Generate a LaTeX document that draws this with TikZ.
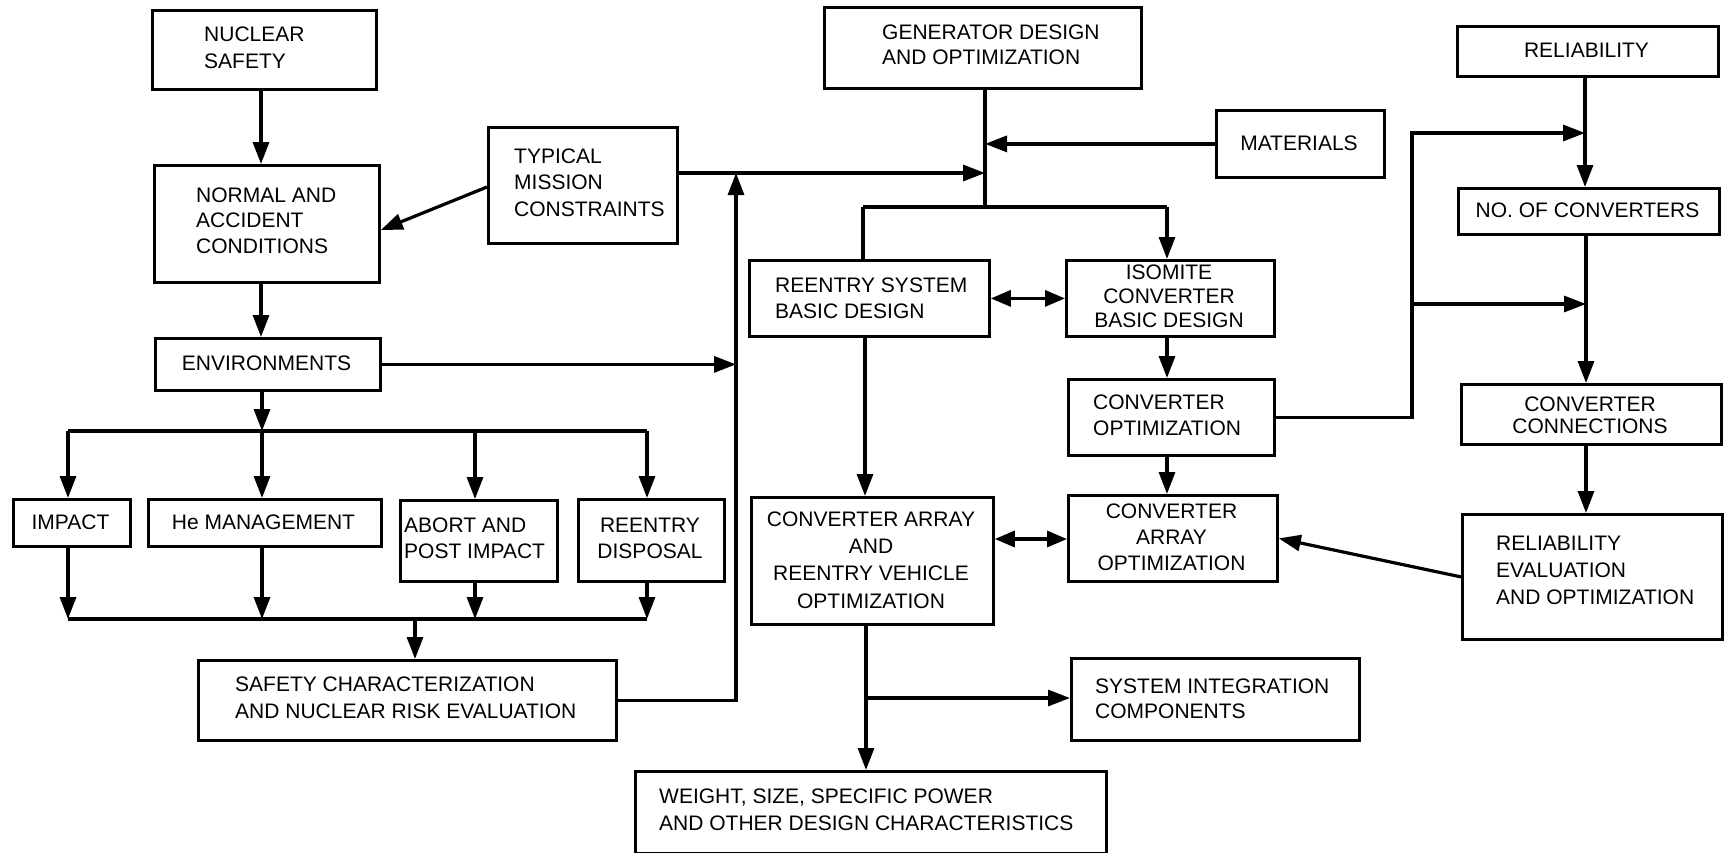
\documentclass[tikz,border=0pt]{standalone}
\usepackage{fontspec}
\setmainfont{Liberation Sans}
\usetikzlibrary{arrows.meta,calc}
\begin{document}
\begin{tikzpicture}[x=1pt,y=-1pt,
  box/.style={draw, line width=2.8pt, inner sep=0pt, anchor=north west},
  txt/.style={inner sep=0pt, align=left, font=\fontsize{21}{26}\selectfont},
  ctxt/.style={inner sep=0pt, align=center, font=\fontsize{21}{26}\selectfont},
  ls/.style={font=\fontsize{21}{#1}\selectfont},
  ln/.style={line width=3.2pt},
  arr/.style={line width=3.2pt, -{Triangle[length=22pt,width=16pt]}},
  dbl/.style={line width=3.2pt, {Triangle[length=20pt,width=16pt]}-{Triangle[length=20pt,width=16pt]}}]
\useasboundingbox (0,0) rectangle (1724,852);
% boxes
\node[box, minimum width=224pt, minimum height=79pt] (nuc) at (151,9) {};
\node[box, minimum width=225pt, minimum height=117pt] (norm) at (153,164) {};
\node[box, minimum width=189pt, minimum height=116pt] (typ) at (487,126) {};
\node[box, minimum width=225pt, minimum height=52pt] (env) at (154,337) {};
\node[box, minimum width=117pt, minimum height=47pt] (imp) at (12,498) {};
\node[box, minimum width=233pt, minimum height=47pt] (he) at (147,498) {};
\node[box, minimum width=157pt, minimum height=81pt] (abort) at (399,499) {};
\node[box, minimum width=146pt, minimum height=82pt] (redis) at (577,498) {};
\node[box, minimum width=418pt, minimum height=80pt] (safe) at (197,659) {};
\node[box, minimum width=317pt, minimum height=81pt] (gen) at (823,6) {};
\node[box, minimum width=168pt, minimum height=67pt] (mat) at (1215,109) {};
\node[box, minimum width=240pt, minimum height=76pt] (rsys) at (748,259) {};
\node[box, minimum width=208pt, minimum height=76pt] (iso) at (1065,259) {};
\node[box, minimum width=206pt, minimum height=76pt] (copt) at (1067,378) {};
\node[box, minimum width=209pt, minimum height=86pt] (caopt) at (1067,494) {};
\node[box, minimum width=242pt, minimum height=127pt] (carv) at (750,496) {};
\node[box, minimum width=288pt, minimum height=82pt] (sysint) at (1070,657) {};
\node[box, minimum width=471pt, minimum height=82pt] (weight) at (634,770) {};
\node[box, minimum width=261pt, minimum height=50pt] (rel) at (1456,25) {};
\node[box, minimum width=261pt, minimum height=46pt] (noc) at (1457,187) {};
\node[box, minimum width=260pt, minimum height=60pt] (conn) at (1460,383) {};
\node[box, minimum width=260pt, minimum height=125pt] (reval) at (1461,513) {};
% texts
\node[txt, ls=27, anchor=west] (nuct) at (204,47.5) {NUCLEAR\\SAFETY};
\node[txt, ls=25.5, anchor=west] (normt) at (196,220.5) {NORMAL AND\\ACCIDENT\\CONDITIONS};
\node[txt, ls=26.5, anchor=west] (typt) at (514,182.5) {TYPICAL\\MISSION\\CONSTRAINTS};
\node[ctxt] (envt) at (266.5,363) {ENVIRONMENTS};
\node[ctxt] (impt) at (70.5,522) {IMPACT};
\node[ctxt] (het) at (263.5,522) {He MANAGEMENT};
\node[txt, anchor=west] (abortt) at (404,538) {ABORT AND\\POST IMPACT};
\node[ctxt] (redist) at (650,538) {REENTRY\\DISPOSAL};
\node[txt, ls=27, anchor=west] (safet) at (235,697.5) {SAFETY CHARACTERIZATION\\AND NUCLEAR RISK EVALUATION};
\node[txt, ls=25, anchor=west] (gent) at (882,44.5) {GENERATOR DESIGN\\AND OPTIMIZATION};
\node[ctxt] (matt) at (1299,143) {MATERIALS};
\node[txt, anchor=west] (rsyst) at (775,298) {REENTRY SYSTEM\\BASIC DESIGN};
\node[ctxt, ls=24] (isot) at (1169,296) {ISOMITE\\CONVERTER\\BASIC DESIGN};
\node[txt, anchor=west] (coptt) at (1093,415) {CONVERTER\\OPTIMIZATION};
\node[ctxt] (caoptt) at (1171.5,537) {CONVERTER\\ARRAY\\OPTIMIZATION};
\node[ctxt, ls=27.3] (carvt) at (871,560) {CONVERTER ARRAY\\AND\\REENTRY VEHICLE\\OPTIMIZATION};
\node[txt, ls=25, anchor=west] (sysintt) at (1095,698.5) {SYSTEM INTEGRATION\\COMPONENTS};
\node[txt, ls=27, anchor=west] (weightt) at (659,809.5) {WEIGHT, SIZE, SPECIFIC POWER\\AND OTHER DESIGN CHARACTERISTICS};
\node[ctxt] (relt) at (1586.5,50) {RELIABILITY};
\node[ctxt] (noct) at (1587.5,210) {NO. OF CONVERTERS};
\node[ctxt, ls=21.5] (connt) at (1590,415.5) {CONVERTER\\CONNECTIONS};
\node[txt, ls=27, anchor=west] (revalt) at (1496,570) {RELIABILITY\\EVALUATION\\AND OPTIMIZATION};
% junction coordinates
\coordinate (xl) at (261,0);
\coordinate (b1) at (262,431);
\coordinate (b1l) at (68,431);
\coordinate (b1a) at (475,431);
\coordinate (b1r) at (647,431);
\coordinate (b2l) at (68,619);
\coordinate (b2h) at (262,619);
\coordinate (b2a) at (475,619);
\coordinate (b2r) at (647,619);
\coordinate (b2s) at (415,619);
\coordinate (jv) at (736,173);
\coordinate (gj) at (985,207);
\coordinate (gjt) at (985,173);
\coordinate (hl) at (863,207);
\coordinate (hr) at (1167,207);
\coordinate (xr) at (865,0);
\coordinate (cy) at (0,539);
\coordinate (rx) at (1412,133);
\coordinate (rxt) at (1585,133);
\coordinate (rxm) at (1412,304);
\coordinate (rxmt) at (1586,304);
\coordinate (wj) at (866,698);
% left column
\draw[arr] (nuc.south -| xl) -- (norm.north -| xl);
\draw[arr] (norm.south -| xl) -- (env.north -| xl);
\draw[arr] (typ.west |- 0,187) -- (norm.east |- 0,230);
\draw[arr] (env.south -| b1) -- (b1);
\draw[ln] (b1l) -- (b1r);
\draw[arr] (b1l) -- (imp.north -| b1l);
\draw[arr] (b1) -- (he.north -| b1);
\draw[arr] (b1a) -- (abort.north -| b1a);
\draw[arr] (b1r) -- (redis.north -| b1r);
\draw[arr] (imp.south -| b2l) -- (b2l);
\draw[arr] (he.south -| b2h) -- (b2h);
\draw[arr] (abort.south -| b2a) -- (b2a);
\draw[arr] (redis.south -| b2r) -- (b2r);
\draw[ln] (b2l) -- (b2r);
\draw[arr] (b2s) -- (safe.north -| b2s);
\draw[arr] (safe.east) -- (safe.east -| jv) -- (jv);
\draw[arr] (env.east) -- (env.east -| jv);
\draw[arr] (typ.east |- jv) -- (gjt);
% centre column
\draw[ln] (gen.south -| gj) -- (gj);
\draw[arr] (mat.west) -- (mat.west -| gj);
\draw[ln] (hl) -- (hr);
\draw[ln] (hl) -- (rsys.north -| hl);
\draw[arr] (hr) -- (iso.north -| hr);
\draw[dbl] (rsys.east) -- (iso.west);
\draw[arr] (iso.south -| hr) -- (copt.north -| hr);
\draw[arr] (copt.south -| hr) -- (caopt.north -| hr);
\draw[arr] (rsys.south -| xr) -- (carv.north -| xr);
\draw[dbl] (carv.east |- cy) -- (caopt.west |- cy);
\draw[arr] (reval.west) -- (caopt.east);
\draw[arr] (carv.south -| wj) -- (weight.north -| wj);
\draw[arr] (wj) -- (sysint.west |- wj);
% right column
\draw[arr] (copt.east) -- (copt.east -| rx) -- (rx) -- (rxt);
\draw[arr] (rxm) -- (rxmt);
\draw[arr] (rel.south -| rxt) -- (noc.north -| rxt);
\draw[arr] (noc.south -| rxmt) -- (conn.north -| rxmt);
\draw[arr] (conn.south -| rxmt) -- (reval.north -| rxmt);
\end{tikzpicture}
\end{document}
